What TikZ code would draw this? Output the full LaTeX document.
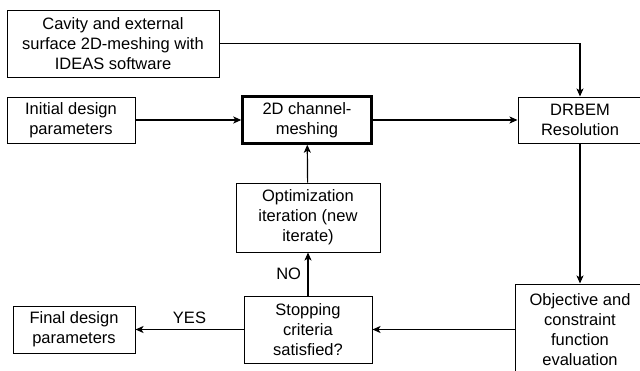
\documentclass[tikz,border=0pt]{standalone}
\usepackage{fontspec}
\setmainfont{Liberation Sans}
\usetikzlibrary{arrows.meta}

\begin{document}
\begin{tikzpicture}[x=1pt,y=-1pt,
    box/.style={draw,line width=1pt,align=center,inner sep=0pt,
      font=\fontsize{16.5}{20}\selectfont},
    flow/.style={line width=1.2pt,-{Stealth[length=8pt,width=7pt,inset=2pt]}}]
      \clip (0,0) rectangle (640,370);

      % boxes
      \node[box,minimum width=212,minimum height=67] (mesh) at (113,43.5)
        {Cavity and external\\surface 2D-meshing with\\IDEAS software};
      \node[box,minimum width=128,minimum height=46] (init) at (71,120)
        {Initial design\\parameters};
      \node[box,line width=2.4pt,minimum width=129,minimum height=47] (chan) at (307,120)
        {2D channel-\\meshing};
      \node[box,minimum width=124,minimum height=46] (drbem) at (580,120)
        {DRBEM\\Resolution};
      \node[box,minimum width=144,minimum height=69] (optim) at (308,217.5)
        {Optimization\\iteration (new\\iterate)};
      \node[box,minimum width=128,minimum height=67] (stop) at (308,329.5)
        {Stopping\\criteria\\satisfied?};
      \node[box,minimum width=122,minimum height=47] (final) at (74,329.5)
        {Final design\\parameters};
      \node[box,minimum width=130,minimum height=92] (obj) at (580,330)
        {Objective and\\constraint\\function\\evaluation};

      % connectors
      \draw[flow] (mesh.east) -- (mesh.east -| drbem.north) -- (drbem.north);
      \draw[flow] (init) -- (chan);
      \draw[flow] (chan) -- (drbem);
      \draw[flow] (drbem.south -| obj.north) -- (obj.north);
      \draw[flow] (obj.west |- stop) -- (stop.east);
      \draw[flow] (stop) -- node[above,font=\fontsize{16.5}{20}\selectfont,yshift=2pt] (yes) {YES} (final);
      \draw[flow] (stop) -- node[left,font=\fontsize{16.5}{20}\selectfont,xshift=-3pt] (no) {NO} (optim);
      \draw[flow] (optim) -- (chan);
\end{tikzpicture}
\end{document}
